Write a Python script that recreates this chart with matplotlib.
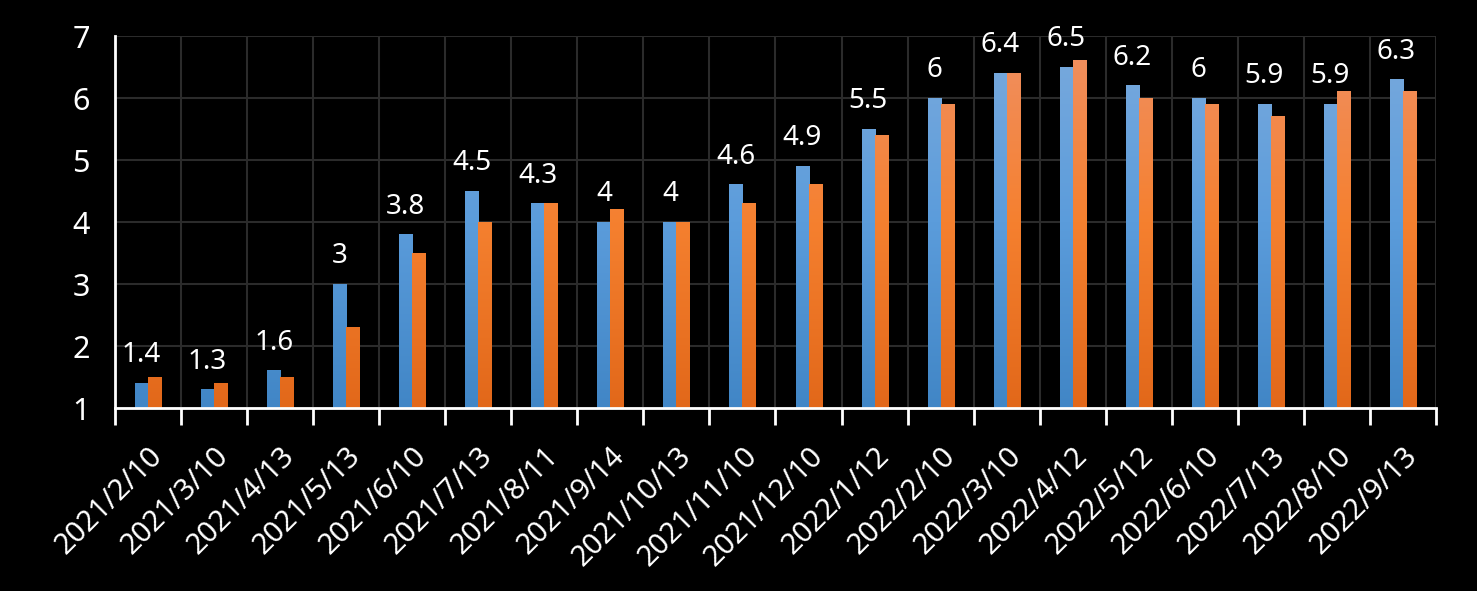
import numpy as np
import matplotlib
matplotlib.use('Agg')
from matplotlib import pyplot as plt
from matplotlib.colors import LinearSegmentedColormap, Normalize

dates = ['2021/2/10', '2021/3/10', '2021/4/13', '2021/5/13', '2021/6/10',
         '2021/7/13', '2021/8/11', '2021/9/14', '2021/10/13', '2021/11/10',
         '2021/12/10', '2022/1/12', '2022/2/10', '2022/3/10', '2022/4/12',
         '2022/5/12', '2022/6/10', '2022/7/13', '2022/8/10', '2022/9/13']
blue_vals = [1.4, 1.3, 1.6, 3.0, 3.8, 4.5, 4.3, 4.0, 4.0, 4.6,
             4.9, 5.5, 6.0, 6.4, 6.5, 6.2, 6.0, 5.9, 5.9, 6.3]
orange_vals = [1.5, 1.4, 1.5, 2.3, 3.5, 4.0, 4.3, 4.2, 4.0, 4.3,
               4.6, 5.4, 5.9, 6.4, 6.6, 6.0, 5.9, 5.7, 6.1, 6.1]
y_ticks = [1, 2, 3, 4, 5, 6, 7]

plt.rcParams['font.family'] = ['Noto Sans', 'DejaVu Sans']

blue_cmap = LinearSegmentedColormap.from_list('b', ['#4186c6', '#5b9cdb', '#7aaadd'])
orange_cmap = LinearSegmentedColormap.from_list('o', ['#e2681a', '#f5802f', '#f09063'])
norm = Normalize(vmin=1, vmax=7)


def gradient_bars(ax, bars, cmap):
    for b in bars:
        x0, w, h = b.get_x(), b.get_width(), b.get_height()
        top = 1 + h
        grad = np.linspace(top, 1, 100).reshape(-1, 1)
        ax.imshow(grad, cmap=cmap, norm=norm, aspect='auto',
                  extent=[x0, x0 + w, 1, top], zorder=2, interpolation='bicubic')
        b.set_visible(False)


fig = plt.figure(figsize=(14.77, 5.91), dpi=100, facecolor='black')
ax = fig.add_axes([0.0779, 0.3096, 0.8943, 0.6294])
ax.set_facecolor('black')

x = np.arange(len(dates))
w = 0.197
bb = ax.bar(x - w / 2, np.array(blue_vals) - 1, w, bottom=1)
ob = ax.bar(x + w / 2, np.array(orange_vals) - 1, w, bottom=1)
gradient_bars(ax, bb, blue_cmap)
gradient_bars(ax, ob, orange_cmap)

for xi, v in zip(x, blue_vals):
    ax.annotate('%g' % v, (xi - w / 2, v), xytext=(0, 10), textcoords='offset points',
                ha='center', va='bottom', color='white', fontsize=20)

ax.set_xlim(-0.5, len(dates) - 0.5)
ax.set_ylim(1, 7)
ax.set_yticks(y_ticks)
ax.set_yticklabels([str(t) for t in y_ticks], color='white', fontsize=22)
ax.tick_params(axis='y', length=0, pad=18)

ax.set_xticks(x)
ax.set_xticklabels(dates, rotation=45, ha='right', rotation_mode='anchor',
                   color='white', fontsize=21)
ax.tick_params(axis='x', which='major', length=0, pad=24)
ax.set_xticks(np.arange(-0.5, len(dates), 1), minor=True)
ax.tick_params(axis='x', which='minor', length=12, width=2, color='white', direction='out')

ax.grid(True, axis='y', color='#2b2b2b', linewidth=1.5, zorder=0)
ax.grid(True, axis='x', which='minor', color='#2b2b2b', linewidth=1.5, zorder=0)
ax.set_axisbelow(True)

for side in ['top', 'right']:
    ax.spines[side].set_visible(False)
for side in ['left', 'bottom']:
    ax.spines[side].set_color('white')
    ax.spines[side].set_linewidth(2)

fig.savefig('out.png', dpi=100, facecolor='black')
